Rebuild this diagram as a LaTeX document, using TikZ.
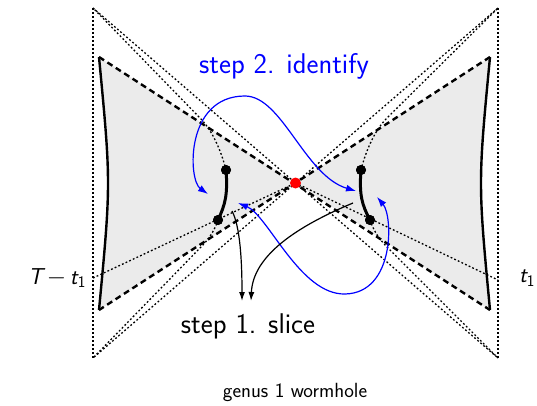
\documentclass[tikz,border=0pt]{standalone}
\usetikzlibrary{arrows.meta}
\definecolor{grayfill}{HTML}{EBEBEB}
\definecolor{idblue}{HTML}{0000FF}
\tikzset{
  frameline/.style={line width=1.3pt, dash pattern=on 1.8pt off 2.2pt},
  rayline/.style={line width=1.3pt, dash pattern=on 1.8pt off 2.2pt},
  horizon/.style={line width=2.4pt, dash pattern=on 6pt off 4pt},
  bdry/.style={line width=2.4pt},
  slice/.style={line width=3pt},
  dotnode/.style={circle, fill=black, inner sep=0pt, minimum size=10pt},
  reddot/.style={circle, fill=red, inner sep=0pt, minimum size=11pt},
  bluearrow/.style={idblue, line width=1.2pt, {Latex[length=10pt,width=7pt]}-{Latex[length=10pt,width=7pt]}},
  blackarrow/.style={black, line width=1.2pt, -{Latex[length=9pt,width=6pt]}},
  lbl/.style={font=\sffamily\fontsize{28.5}{32}\selectfont, inner sep=0pt},
  tlbl/.style={font=\sffamily\fontsize{23}{27}\selectfont, inner sep=0pt},
  caplbl/.style={font=\sffamily\fontsize{20.5}{24}\selectfont, inner sep=0pt}
}
\begin{document}
\begin{tikzpicture}[x=1pt,y=-1pt]
\useasboundingbox (0,0) rectangle (537,406);
% corners
\coordinate (TL) at (93,8);
\coordinate (BL) at (93,358);
\coordinate (TR) at (498,8);
\coordinate (BR) at (498,358);
\coordinate (C) at (295.5,183);
\coordinate (hTL) at (99,57);
\coordinate (hBL) at (99,310);
\coordinate (hTR) at (490,57);
\coordinate (hBR) at (490,310);
\coordinate (sL) at (93,278);
\coordinate (sR) at (498,280);
% gray regions
\fill[grayfill] (hTL) -- (C) -- (hBL) .. controls (111,183) .. (hTL) -- cycle;
\fill[grayfill] (hTR) -- (C) -- (hBR) .. controls (478,183) .. (hTR) -- cycle;
% outer frame
\draw[frameline] (TL) -- (BL);
\draw[frameline] (TR) -- (BR);
\draw[frameline] (TL) -- (BR);
\draw[frameline] (TR) -- (BL);
% horizons
\draw[horizon] (hTL) -- (hBR);
\draw[horizon] (hTR) -- (hBL);
% time slices from boundaries
\draw[rayline] (sL) -- (C);
\draw[rayline] (C) -- (sR);
% boundaries
\draw[bdry] (hTL) .. controls (111,183) .. (hBL);
\draw[bdry] (hTR) .. controls (478,183) .. (hBR);
% dots
\node[dotnode] (uL) at (226,170) {};
\node[dotnode] (lL) at (218,220) {};
\node[dotnode] (uR) at (361,170) {};
\node[dotnode] (lR) at (370,220) {};
% rays from dots to corners
\draw[rayline] (uL.center) .. controls (221,150) and (212,130) .. (200,118) -- (TL);
\draw[rayline] (lL.center) .. controls (214,232) and (208,240) .. (200,248) -- (BL);
\draw[rayline] (uR.center) .. controls (366,150) and (375,130) .. (387,118) -- (TR);
\draw[rayline] (lR.center) .. controls (374,232) and (380,240) .. (388,248) -- (BR);
% slice segments
\draw[slice] (uL.center) .. controls (228,195) and (225,205) .. (lL.center);
\draw[slice] (uR.center) .. controls (359,195) and (362,205) .. (lR.center);
\node[dotnode] at (uL) {};
\node[dotnode] at (lL) {};
\node[dotnode] at (uR) {};
\node[dotnode] at (lR) {};
\node[reddot] (X) at (C) {};
% blue identify arrows
\coordinate (a1) at (208,194);
\coordinate (a2) at (356,191);
\coordinate (atop) at (245,96);
\draw[bluearrow] (a1) .. controls (188,180) and (185,96) .. (atop) .. controls (282,96) and (305,176) .. (a2);
\coordinate (b1) at (238,203);
\coordinate (b2) at (377,197);
\coordinate (bbot) at (345,294);
\draw[bluearrow] (b1) .. controls (268,215) and (300,295) .. (bbot) .. controls (395,293) and (393,216) .. (b2);
% black slice arrows
\coordinate (s1) at (232,211);
\coordinate (s2) at (353,203);
\coordinate (e1) at (242,301);
\coordinate (e2) at (251,301);
\draw[blackarrow] (s1) .. controls (240,226) and (242,260) .. (e1);
\draw[blackarrow] (s2) .. controls (298,226) and (253,255) .. (e2);
% labels
\node[lbl, text=idblue] (id) at (284,66) {step 2. identify};
\node[lbl] (sl) at (248,326) {step 1. slice};
\node[caplbl] (gen) at (295,392) {genus 1 wormhole};
\node[tlbl] (tl) at (57,278) {\slshape T\,\upshape$-$\,\slshape t\textsubscript{\upshape 1}};
\node[tlbl] (tr) at (527,278) {\slshape t\textsubscript{\upshape 1}};
\end{tikzpicture}
\end{document}
